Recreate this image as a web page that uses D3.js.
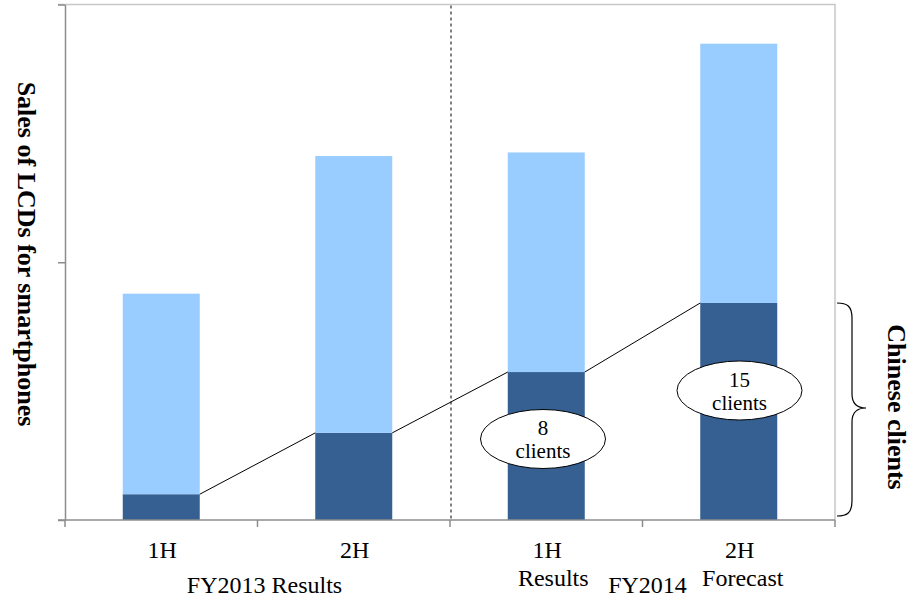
<!DOCTYPE html>
<html>
<head>
<meta charset="utf-8">
<script src="https://cdn.jsdelivr.net/npm/d3@7"></script>
<style>
  html, body { margin: 0; padding: 0; background: #fff; }
  svg { display: block; font-family: "Liberation Serif", "DejaVu Serif", serif; }
</style>
</head>
<body>
<svg id="chart" width="914" height="600"></svg>
<script>
// Half-year periods and stacked sales (arbitrary units)
const periods = ["FY2013 1H", "FY2013 2H", "FY2014 1H", "FY2014 2H"];
const periodLabels = ["1H", "2H", "1H", "2H"];
const chineseSales = [5.0, 16.9, 28.7, 42.1];
const otherSales = [38.9, 53.7, 42.6, 50.3];
const yTicks = [0, 50, 100];
const clientCounts = [null, null, 8, 15];

const svg = d3.select("#chart");
const plotLeft = 65, plotRight = 835, plotTop = 4.5, plotBottom = 520;

const x = d3.scaleBand().domain(periods).range([plotLeft, plotRight])
  .paddingInner(0.6).paddingOuter(0.3);
const step = x.step();
const y = d3.scaleLinear().domain([0, 100]).range([plotBottom, plotTop]);

// plot frame (top and right edges)
svg.append("path")
  .attr("d", `M${plotLeft - 7},${plotTop}H${plotRight}V${plotBottom}`)
  .attr("fill", "none").attr("stroke", "#c8c8c8").attr("stroke-width", 1.5);

// stacked bars
const rows = periods.map((p, i) => ({ period: p, chinese: chineseSales[i], other: otherSales[i] }));
const stack = d3.stack().keys(["chinese", "other"])(rows);
const colors = { chinese: "#365F92", other: "#99CCFF" };

svg.append("g").selectAll("g").data(stack).join("g")
  .attr("fill", d => colors[d.key])
  .selectAll("rect").data(d => d).join("rect")
  .attr("x", d => x(d.data.period))
  .attr("y", d => y(d[1]))
  .attr("width", x.bandwidth())
  .attr("height", d => y(d[0]) - y(d[1]));

// series lines joining the tops of the lower segments
const seg = [];
for (let i = 0; i < periods.length - 1; i++) {
  seg.push([[x(periods[i]) + x.bandwidth(), y(chineseSales[i])],
            [x(periods[i + 1]), y(chineseSales[i + 1])]]);
}
svg.append("g").selectAll("path").data(seg).join("path")
  .attr("d", d => d3.line()(d))
  .attr("stroke", "#000").attr("stroke-width", 1).attr("fill", "none");

// dashed separator between fiscal years
const sepX = plotLeft + 2 * step + 1;
svg.append("line")
  .attr("x1", sepX).attr("x2", sepX).attr("y1", plotTop + 1).attr("y2", plotBottom)
  .attr("stroke", "#000").attr("stroke-width", 1).attr("stroke-dasharray", "3,3");

// y axis
const yAxis = svg.append("g").attr("transform", `translate(${plotLeft},0)`)
  .call(d3.axisLeft(y).tickValues(yTicks).tickFormat("").tickSize(7).tickSizeOuter(0));
yAxis.select(".domain").attr("stroke", "#8c8c8c").attr("stroke-width", 1.5);
yAxis.selectAll(".tick line").attr("stroke", "#8c8c8c").attr("stroke-width", 1.5);

// x axis with ticks at period boundaries
svg.append("line")
  .attr("x1", plotLeft - 7).attr("x2", plotRight).attr("y1", plotBottom).attr("y2", plotBottom)
  .attr("stroke", "#8c8c8c").attr("stroke-width", 1.5);
svg.append("g").selectAll("line").data(d3.range(periods.length + 1)).join("line")
  .attr("x1", i => plotLeft + i * step).attr("x2", i => plotLeft + i * step)
  .attr("y1", plotBottom).attr("y2", plotBottom + 7)
  .attr("stroke", "#8c8c8c").attr("stroke-width", 1.5);

// category labels
const cx = p => x(p) + x.bandwidth() / 2;
svg.append("g").selectAll("text").data(periods).join("text")
  .attr("x", p => cx(p) + 1).attr("y", 558)
  .attr("text-anchor", "middle").attr("font-size", 24)
  .text((p, i) => periodLabels[i]);

const sub = [
  { t: "FY2013 Results", x: plotLeft + step + 7, y: 593 },
  { t: "Results", x: cx(periods[2]) + 7, y: 586 },
  { t: "FY2014", x: plotLeft + 3 * step + 5, y: 593 },
  { t: "Forecast", x: cx(periods[3]) + 4, y: 586 }
];
svg.append("g").selectAll("text").data(sub).join("text")
  .attr("x", d => d.x).attr("y", d => d.y)
  .attr("text-anchor", "middle").attr("font-size", 24)
  .text(d => d.t);

// client count callouts
const callouts = [
  { i: 2, cx: 543, cy: 439 },
  { i: 3, cx: 739.5, cy: 390.5 }
];
const cg = svg.append("g").selectAll("g").data(callouts).join("g")
  .attr("transform", d => `translate(${d.cx},${d.cy})`);
cg.append("ellipse").attr("rx", 62.5).attr("ry", 29.5)
  .attr("fill", "#fff").attr("stroke", "#000").attr("stroke-width", 1);
cg.append("text").attr("text-anchor", "middle").attr("y", -4).attr("font-size", 21)
  .text(d => clientCounts[d.i]);
cg.append("text").attr("text-anchor", "middle").attr("y", 19).attr("font-size", 21)
  .text("clients");

// brace grouping the Chinese-client segments
const bTop = 303, bBot = 516, bMid = 408, bx = 837;
const brace = `M${bx},${bTop}
  C${bx + 10},${bTop} ${bx + 15},${bTop + 3} ${bx + 15},${bTop + 15}
  L${bx + 15},${bMid - 14}
  C${bx + 15},${bMid - 4} ${bx + 20},${bMid} ${bx + 29},${bMid}
  C${bx + 20},${bMid} ${bx + 15},${bMid + 4} ${bx + 15},${bMid + 14}
  L${bx + 15},${bBot - 15}
  C${bx + 15},${bBot - 3} ${bx + 10},${bBot} ${bx},${bBot}`;
svg.append("path").attr("d", brace)
  .attr("fill", "none").attr("stroke", "#000").attr("stroke-width", 1.2);

// axis titles
svg.append("text")
  .attr("transform", "translate(18,254) rotate(90)")
  .attr("text-anchor", "middle").attr("font-size", 26).attr("font-weight", "bold")
  .text("Sales of LCDs for smartphones");
svg.append("text")
  .attr("transform", "translate(888,407) rotate(90)")
  .attr("text-anchor", "middle").attr("font-size", 26).attr("font-weight", "bold")
  .text("Chinese clients");
</script>
</body>
</html>
